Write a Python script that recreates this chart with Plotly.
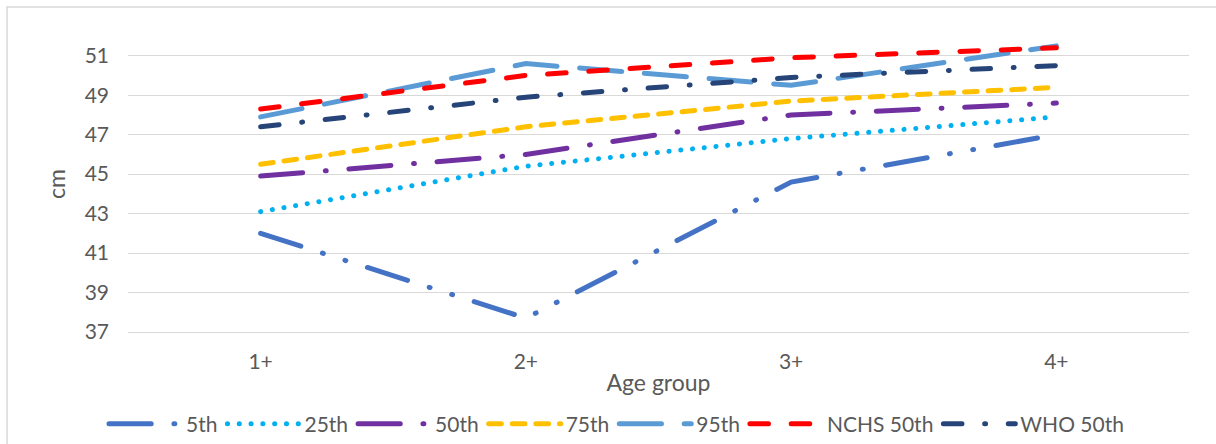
import plotly.graph_objects as go

# Head circumference percentiles by age group (cm)
age_groups = ["1+", "2+", "3+", "4+"]
p5 = [42.0, 37.7, 44.6, 47.0]
p25 = [43.1, 45.4, 46.8, 47.9]
p50 = [44.9, 46.0, 48.0, 48.6]
p75 = [45.5, 47.4, 48.7, 49.4]
p95 = [47.9, 50.6, 49.5, 51.5]
nchs50 = [48.3, 50.0, 50.9, 51.4]
who50 = [47.4, 48.9, 49.9, 50.5]

y_ticks = [37, 39, 41, 43, 45, 47, 49, 51]

LW = 5  # line width in px; dash arrays below assume round caps of this width
series = [
    ("5th", p5, "#4472C4", "42.2px,22.7px,0.9px,22.7px,0.9px,22.7px"),
    ("25th", p25, "#00B0F0", "0.1px,11.7px"),
    ("50th", p50, "#7030A0", "42.2px,22.7px,0.9px,22.7px"),
    ("75th", p75, "#FFC000", "12.7px,10.9px"),
    ("95th", p95, "#5B9BD5", "42.2px,22.7px"),
    ("NCHS 50th", nchs50, "#FF0000", "18.6px,22.7px"),
    ("WHO 50th", who50, "#264478", "18.6px,22.7px,0.9px,22.7px"),
]

FONT = "Lato, 'Open Sans', sans-serif"
GREY = "#595959"
GRID = "#D9D9D9"

fig = go.Figure()
for name, vals, color, dash in series:
    fig.add_trace(go.Scatter(
        x=age_groups, y=vals, name=name, mode="lines",
        line=dict(color=color, width=LW, dash=dash),
    ))

fig.update_layout(
    width=1216, height=444,
    margin=dict(l=128, r=27, t=36, b=112, autoexpand=False),
    paper_bgcolor="white", plot_bgcolor="white",
    font=dict(family=FONT, size=21, color=GREY),
    showlegend=True,
    legend=dict(
        orientation="h", xref="container", yref="container",
        x=0.507, xanchor="center", y=0.045, yanchor="middle",
        font=dict(family=FONT, size=21, color=GREY),
        itemwidth=72, traceorder="normal", bgcolor="rgba(0,0,0,0)",
    ),
    xaxis=dict(
        type="category", range=[-0.5, 3.5], showgrid=False,
        showline=True, linecolor=GRID, linewidth=1.3, zeroline=False,
        ticks="", tickfont=dict(size=21, color=GREY), ticklabelstandoff=11,
        title=dict(text="Age group", font=dict(size=23, color=GREY), standoff=2),
    ),
    yaxis=dict(
        range=[37, 52], tickvals=y_ticks, showgrid=True, gridcolor=GRID,
        gridwidth=1.3, zeroline=False, showline=False, ticks="",
        tickfont=dict(size=21, color=GREY), ticklabelstandoff=18,
        title=dict(text="cm", font=dict(size=23, color=GREY), standoff=12),
    ),
    shapes=[dict(
        type="rect", xref="paper", yref="paper",
        x0=-0.114, x1=1.2, y0=-0.6, y1=1.098,
        line=dict(color=GRID, width=1.5), fillcolor="rgba(0,0,0,0)", layer="below",
    )],
)

# Round line caps so dots render as circles and dashes have rounded ends
post = (
    "var s=document.createElement('style');"
    "s.textContent='.js-line{stroke-linecap:round;}';"
    "document.head.appendChild(s);"
)
fig.write_html("out.html", post_script=post)
